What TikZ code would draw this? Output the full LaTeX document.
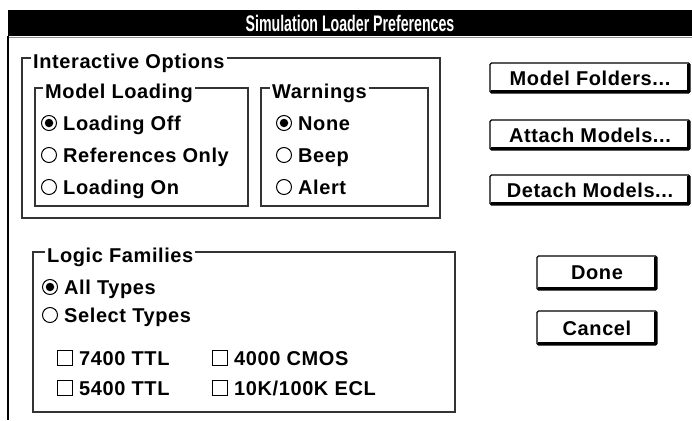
\documentclass[tikz,border=0pt]{standalone}
\usepackage{fontspec}
\setmainfont{Liberation Sans}
\newfontfamily\uifont[LetterSpace=3]{Liberation Sans}
\newfontfamily\barfont[FakeStretch=0.63]{Liberation Sans}
\newcommand\uitext{\uifont\bfseries\fontsize{20}{22}\selectfont}
\newcommand\bartext{\barfont\bfseries\fontsize{22.5}{24}\selectfont}

\begin{document}
\begin{tikzpicture}[x=1pt,y=-1pt,
  groupframe/.style={draw=black!80,line width=1.3pt},
  grouplabel/.style={anchor=base west,fill=white,inner xsep=2pt,inner ysep=1pt,font=\uitext},
  optlabel/.style={anchor=base west,inner sep=0pt,font=\uitext},
  radio/.style={circle,draw=black,line width=1pt,minimum size=15pt,inner sep=0pt},
  radiodot/.style={circle,fill=black,minimum size=8.5pt,inner sep=0pt},
  checkbox/.style={rectangle,draw=black,line width=1pt,minimum size=14.5pt,inner sep=0pt},
  button/.style={rectangle,draw=black,line width=1.2pt,rounded corners=1.5pt,font=\uitext,inner sep=0pt},
  buttonshade/.style={line width=3pt,line cap=butt}
]
\useasboundingbox (0,0) rectangle (692,420);

% title bar and window edge
\fill[black] (8,10) rectangle (692,36);
\draw[black!45,line width=0.8pt] (8,37) -- (692,37);
\draw[black,line width=1.6pt] (8,36) -- (8,420);
\node[text=white,font=\bartext,inner sep=0pt,anchor=base] (title) at (350,31) {Simulation Loader Preferences};

% group: Interactive Options
\draw[groupframe] (22,58) rectangle (440,218);
\node[grouplabel] (gio) at (31,68.5) {Interactive Options};

% group: Model Loading
\draw[groupframe] (35,88) rectangle (248,206);
\node[grouplabel] (gml) at (43,98.5) {Model Loading};
\node[radio] (ml1) at (49,123) {};
\node[radiodot] (ml1dot) at (ml1) {};
\node[radio] (ml2) at (49,155) {};
\node[radio] (ml3) at (49,187) {};
\node[optlabel] (tml1) at (63,130) {Loading Off};
\node[optlabel] (tml2) at (63,162) {References Only};
\node[optlabel] (tml3) at (63,194) {Loading On};

% group: Warnings
\draw[groupframe] (261,88) rectangle (428,206);
\node[grouplabel] (gw) at (270,98.5) {Warnings};
\node[radio] (w1) at (284,123) {};
\node[radiodot] (w1dot) at (w1) {};
\node[radio] (w2) at (284,155) {};
\node[radio] (w3) at (284,187) {};
\node[optlabel] (tw1) at (298,130) {None};
\node[optlabel] (tw2) at (298,162) {Beep};
\node[optlabel] (tw3) at (298,194) {Alert};

% group: Logic Families
\draw[groupframe] (33,252) rectangle (455,412);
\node[grouplabel] (glf) at (45,262.5) {Logic Families};
\node[radio] (lf1) at (50,287) {};
\node[radiodot] (lf1dot) at (lf1) {};
\node[radio] (lf2) at (50,315) {};
\node[optlabel] (tlf1) at (64,294) {All Types};
\node[optlabel] (tlf2) at (64,322) {Select Types};
\node[checkbox] (c1) at (65,358) {};
\node[checkbox] (c2) at (65,388) {};
\node[checkbox] (c3) at (220,358) {};
\node[checkbox] (c4) at (220,388) {};
\node[optlabel] (tc1) at (79,365) {7400 TTL};
\node[optlabel] (tc2) at (79,395) {5400 TTL};
\node[optlabel] (tc3) at (234,365) {4000 CMOS};
\node[optlabel] (tc4) at (234,395) {10K/100K ECL};

% push buttons
\foreach \name/\cx/\cy/\w/\h/\txt in {
    bmf/590/78/200/30/{Model Folders...},
    bam/590/135/200/30/{Attach Models...},
    bdm/590/190/200/30/{Detach Models...},
    bdone/597/273/120/34/{Done},
    bcancel/597/328/120/34/{Cancel}} {
  \node[button,minimum width=\w pt,minimum height=\h pt] (\name) at (\cx,\cy) {\txt};
  \draw[buttonshade]
    ([xshift=2pt,yshift=1.8pt]\name.south west) -- ([xshift=-1.8pt,yshift=1.8pt]\name.south east)
    -- ([xshift=-1.8pt,yshift=-2pt]\name.north east);
}
\end{tikzpicture}
\end{document}
